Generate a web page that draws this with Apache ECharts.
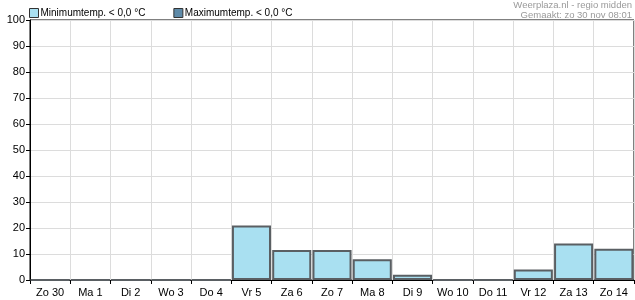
<!DOCTYPE html>
<html>
<head>
<meta charset="utf-8">
<script src="https://cdn.jsdelivr.net/npm/echarts@6/dist/echarts.min.js"></script>
<style>
html,body{margin:0;padding:0;background:#fff;}
#c{width:635px;height:300px;}
</style>
</head>
<body>
<div id="c"></div>
<script>
const categories = ['Zo 30','Ma 1','Di 2','Wo 3','Do 4','Vr 5','Za 6','Zo 7','Ma 8','Di 9','Wo 10','Do 11','Vr 12','Za 13','Zo 14'];
const minTemp = [0,0,0,0,0,21,11.5,11.5,8,2,0,0,4,14,12];
const maxTemp = [0,0,0,0,0,0,0,0,0,0,0,0,0,0,0];
const seriesNames = ['Minimumtemp. < 0,0 °C','Maximumtemp. < 0,0 °C'];
const titleLines = ['Weerplaza.nl - regio midden','Gemaakt: zo 30 nov 08:01'];

const FONT = '"Liberation Sans", Arial, sans-serif';
const chart = echarts.init(document.getElementById('c'), null, {renderer:'canvas'});
chart.setOption({
  animation:false,
  backgroundColor:'#fff',
  textStyle:{fontFamily:FONT},
  graphic: titleLines.map((t,i)=>({
    type:'text', right:3, top: 0 + i*10,
    style:{text:t, fill:'#9a9a9a', font:'9.5px '+FONT, align:'right'}
  })),
  legend:{
    left:24, top:3, itemWidth:9, itemHeight:9, itemGap:28,
    icon:'rect',
    data: seriesNames,
    itemStyle:{borderWidth:1,borderColor:'#333'},
    textStyle:{fontFamily:FONT,fontSize:10,color:'#000',padding:[0,0,0,-3]}
  },
  grid:{left:30,right:1,top:20,bottom:20,show:true,borderColor:'#000',borderWidth:1,containLabel:false},
  xAxis:{
    type:'category',
    data:categories,
    boundaryGap:true,
    axisLine:{lineStyle:{color:'#000',width:1}},
    axisTick:{show:true,length:4,inside:false,alignWithLabel:false,lineStyle:{color:'#000'}},
    axisLabel:{color:'#000',fontSize:11,fontFamily:FONT,margin:7,interval:0},
    splitLine:{show:true,interval:0,lineStyle:{color:'#dcdcdc',width:1}}
  },
  yAxis:{
    type:'value',min:0,max:100,interval:10,
    axisLine:{show:true,lineStyle:{color:'#000',width:1}},
    axisTick:{show:true,length:4,lineStyle:{color:'#000'}},
    axisLabel:{color:'#000',fontSize:11,fontFamily:FONT,margin:5},
    splitLine:{show:true,lineStyle:{color:'#dcdcdc',width:1}}
  },
  series:[
    {
      name:seriesNames[1],type:'bar',data:maxTemp,barGap:'-100%',barCategoryGap:'3%',z:1,
      itemStyle:{color:'#5e8aa8',borderWidth:0}
    },
    {
      name:seriesNames[0],type:'bar',data:minTemp,barGap:'-100%',barCategoryGap:'3%',z:2,
      itemStyle:{color:'#a9e0f1',borderColor:'#5a5f63',borderWidth:2}
    }
  ]
});
</script>
</body>
</html>
